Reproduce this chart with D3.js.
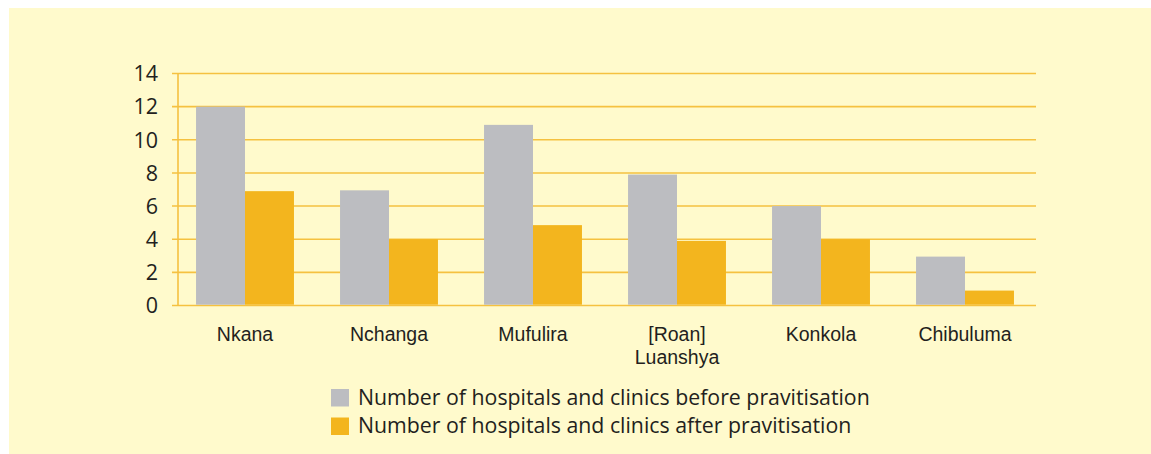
<!DOCTYPE html>
<html>
<head>
<meta charset="utf-8" />
<style>
  html, body {
    margin: 0;
    padding: 0;
    background: #fff;
  }
  .grid line {
    stroke: #f5c140;
    stroke-width: 1.6px;
  }
  .ytick text {
    font-family: "Open Sans", sans-serif;
    font-size: 21.5px;
    fill: #231f20;
  }
  .cat {
    font-family: "Liberation Sans", Arial, sans-serif;
    font-size: 19.5px;
    fill: #231f20;
  }
  .legend text {
    font-family: "Open Sans", sans-serif;
    font-size: 21.3px;
    fill: #231f20;
  }
</style>
</head>
<body>
<div id="vis"></div>
<script src="https://d3js.org/d3.v7.min.js"></script>
<script>
  // ** DATA **
  var categories = ["Nkana", "Nchanga", "Mufulira", "[Roan] Luanshya", "Konkola", "Chibuluma"];
  var catLines = [["Nkana"], ["Nchanga"], ["Mufulira"], ["[Roan]", "Luanshya"], ["Konkola"], ["Chibuluma"]];
  var before = [12, 6.95, 10.9, 7.9, 6, 2.95];
  var after = [6.9, 4, 4.85, 3.9, 4, 0.9];
  var seriesNames = ["Number of hospitals and clinics before pravitisation",
                     "Number of hospitals and clinics after pravitisation"];
  var yTicks = [0, 2, 4, 6, 8, 10, 12, 14];

  var colors = ["#bcbdc1", "#f3b51e"];
  var W = 1151, H = 454;

  var svg = d3.select("#vis").append("svg")
    .attr("width", W).attr("height", H);

  // panel background
  svg.append("rect")
    .attr("x", 9).attr("y", 8)
    .attr("width", W - 9).attr("height", H - 8)
    .attr("fill", "#fffacc");

  var x = d3.scaleBand()
    .domain(categories)
    .range([173, 1037])
    .paddingInner(0.32)
    .paddingOuter(0.16);

  var x1 = d3.scaleBand()
    .domain([0, 1])
    .range([0, x.bandwidth()]);

  var y = d3.scaleLinear()
    .domain([0, 14])
    .range([305.5, 73.5]);

  // gridlines + ticks
  var grid = svg.append("g").attr("class", "grid");
  grid.selectAll("line")
    .data(yTicks)
    .enter().append("line")
      .attr("x1", 172).attr("x2", 1036)
      .attr("y1", function(d) { return y(d); })
      .attr("y2", function(d) { return y(d); });

  // y axis line
  grid.append("line")
    .attr("x1", 178).attr("x2", 178)
    .attr("y1", y(14)).attr("y2", y(0));

  svg.append("g").attr("class", "ytick")
    .selectAll("text")
    .data(yTicks)
    .enter().append("text")
      .attr("x", 158)
      .attr("y", function(d) { return y(d); })
      .attr("dy", "0.36em")
      .attr("text-anchor", "end")
      .text(function(d) { return d; });

  // bars
  var groups = svg.append("g").selectAll("g")
    .data(categories)
    .enter().append("g")
      .attr("transform", function(d) { return "translate(" + x(d) + ",0)"; });

  groups.selectAll("rect")
    .data(function(d, i) { return [before[i], after[i]]; })
    .enter().append("rect")
      .attr("x", function(d, j) { return x1(j); })
      .attr("width", x1.bandwidth())
      .attr("y", function(d) { return y(d); })
      .attr("height", function(d) { return y(0) - y(d) - 0.8; })
      .attr("fill", function(d, j) { return colors[j]; });

  // category labels
  svg.append("g").selectAll("text")
    .data(categories)
    .enter().append("text")
      .attr("class", "cat")
      .attr("text-anchor", "middle")
      .attr("x", function(d) { return x(d) + x.bandwidth() / 2; })
      .attr("y", 341)
      .each(function(d, i) {
        var t = d3.select(this);
        catLines[i].forEach(function(line, k) {
          t.append("tspan")
            .attr("x", x(d) + x.bandwidth() / 2)
            .attr("dy", k === 0 ? 0 : 23)
            .text(line);
        });
      });

  // legend
  var legend = svg.append("g").attr("class", "legend")
    .selectAll("g")
    .data(seriesNames)
    .enter().append("g")
      .attr("transform", function(d, i) { return "translate(331," + (389 + i * 28.5) + ")"; });

  legend.append("rect")
    .attr("width", 18).attr("height", 17.5)
    .attr("fill", function(d, i) { return colors[i]; });

  legend.append("text")
    .attr("x", 27)
    .attr("y", 15.5)
    .text(function(d) { return d; });
</script>
</body>
</html>
